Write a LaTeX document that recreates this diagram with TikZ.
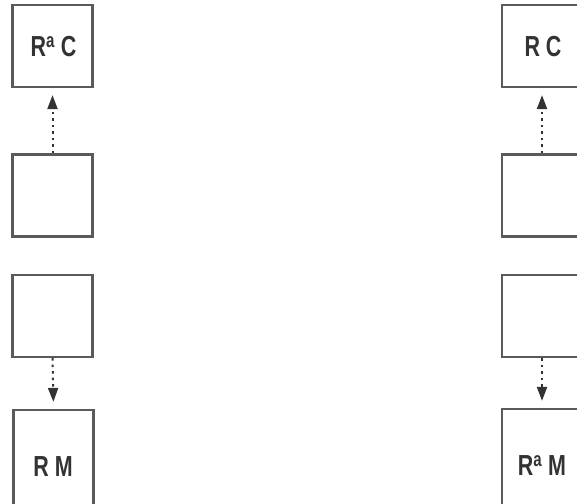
\documentclass[tikz,border=0pt]{standalone}
\usepackage{fontspec}
\setmainfont{Liberation Sans}
\usetikzlibrary{arrows.meta}
\definecolor{edge}{HTML}{5A5A5A}
\definecolor{ink}{HTML}{333333}
\tikzset{
  box/.style={draw=edge, line width=2.2pt, minimum width=80pt, minimum height=82pt, inner sep=0pt, fill=white},
  tallbox/.style={box, minimum height=110pt},
  lbl/.style={font=\bfseries\fontsize{29}{31}\selectfont, text=ink, xscale=0.74},
  conn/.style={draw=ink, line width=2pt, dash pattern=on 2.5pt off 4pt,
    -{Triangle[length=14pt,width=10pt,fill=ink]}, shorten >=7pt}
}
\begin{document}
\begin{tikzpicture}[x=1pt,y=-1pt]
\clip (0,0) rectangle (577,503);
\fill[white] (0,0) rectangle (577,503);
% left column
\node[box] (l1) at (52.5,46) {};
\node[lbl] (l1t) at (53.5,47) {R\textsuperscript{a} C};
\node[box] (l2) at (52.5,195.5) {};
\node[box] (l3) at (52.5,316) {};
\node[tallbox] (l4) at (53.5,465) {};
\node[lbl] (l4t) at (53,467) {R M};
% right column
\node[box] (r1) at (542,46) {};
\node[lbl] (r1t) at (543,47) {R C};
\node[box] (r2) at (542,195.5) {};
\node[box] (r3) at (542,316) {};
\node[tallbox] (r4) at (542,464) {};
\node[lbl] (r4t) at (542,466) {R\textsuperscript{a} M};
% connectors
\draw[conn] (l2.north) -- (l1.south);
\draw[conn] (l3.south) -- (l4.north);
\draw[conn] (r2.north) -- (r1.south);
\draw[conn] (r3.south) -- (r4.north);
\end{tikzpicture}
\end{document}
